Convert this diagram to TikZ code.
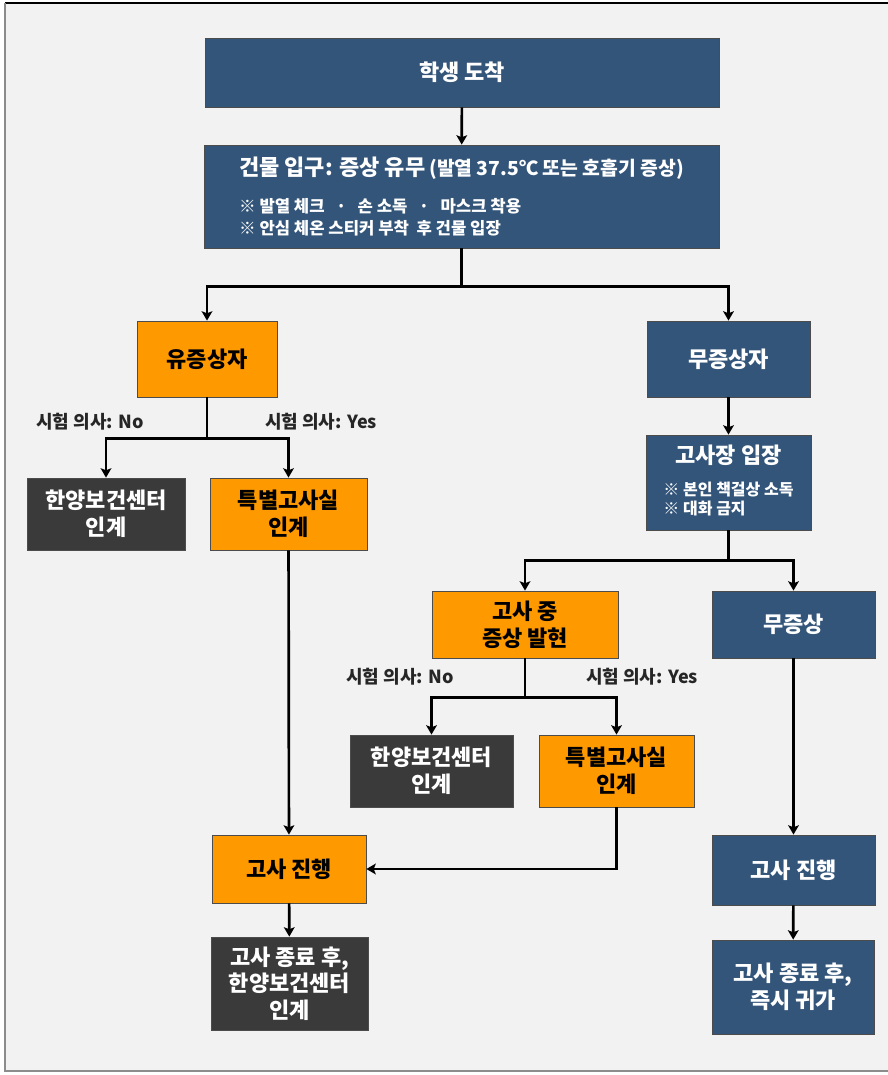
\documentclass[tikz,border=0pt]{standalone}
\usepackage{fontspec}
\setmainfont{Noto Sans CJK KR}
\usepackage{xcolor}
\usepackage{tikz}
\usetikzlibrary{arrows.meta, calc}

\definecolor{boxblue}{HTML}{34557A}
\definecolor{boxorange}{HTML}{FF9900}
\definecolor{boxgray}{HTML}{3A3A3A}
\definecolor{pagegray}{HTML}{F2F2F2}

\begin{document}
\begin{tikzpicture}[x=0.75pt, y=-0.75pt, arrow/.style = {line width=2pt,-{Stealth[length=7pt,width=8pt,inset=1.5pt]}}]
		\tikzset{box/.style={draw=black!70,line width=0.6pt,rectangle,inner sep=0pt,align=center,font=\bfseries\fontsize{16.5}{20}\selectfont}}
		\tikzset{sz/.style 2 args={minimum width=#1*0.75pt,minimum height=#2*0.75pt}}
		\tikzset{bluebox/.style={box,fill=boxblue,text=white}}
		\tikzset{orangebox/.style={box,fill=boxorange,text=black}}
		\tikzset{graybox/.style={box,fill=boxgray,text=white}}
		\tikzset{lbl/.style={inner sep=0pt,text=black!85,font=\bfseries\fontsize{13.5}{16}\selectfont}}

		\useasboundingbox (0,0) rectangle (888,1075);
		\fill[pagegray] (5,3) rectangle (888,1071);
		\draw[black, line width=1.5pt] (5,3) -- (888,3);
		\draw[black!45, line width=1.5pt] (5,3) -- (5,1071) -- (888,1071);

		% top
		\node[bluebox, sz={514}{69}] (arrive) at (462,72.5) {학생 도착};
		\node[bluebox, sz={515}{103}, align=left, font=\bfseries\fontsize{12.5}{16}\selectfont] (entry) at (461.5,196.5)
			{{\fontsize{16.5}{20}\selectfont 건물 입구: 증상 유무} {\fontsize{14.5}{16}\selectfont (발열 37.5℃ 또는 호흡기 증상)}\\[12pt]
			※ 발열 체크 ~~·~~ 손 소독 ~~·~~ 마스크 착용\\
			※ 안심 체온 스티커 부착 ~후 건물 입장};

		% left side
		\node[orangebox, sz={140}{76}] (sympt) at (207,359) {유증상자};
		\node[graybox, sz={158}{72}] (hb1) at (106,514) {한양보건센터\\인계};
		\node[orangebox, sz={157}{72}] (sp1) at (288.5,514) {특별고사실\\인계};
		\node[lbl] (no1) at (90,422) {시험 의사: No};
		\node[lbl] (yes1) at (321,422) {시험 의사: Yes};

		% right side
		\node[bluebox, sz={163}{76}] (nosympt) at (728.5,359) {무증상자};
		\node[bluebox, sz={165}{95}] (room) at (728.5,482.5) {고사장 입장\\[4pt]
			{\fontsize{12}{13.5}\selectfont\begin{tabular}[t]{@{}l@{}}※ 본인 책걸상 소독\\ ※ 대화 금지\end{tabular}}};
		\node[orangebox, sz={186}{67}] (onset) at (525,624.5) {고사 중\\증상 발현};
		\node[bluebox, sz={163}{67}] (nosym2) at (793.5,624.5) {무증상};
		\node[graybox, sz={163}{72}] (hb2) at (431.5,771) {한양보건센터\\인계};
		\node[orangebox, sz={155}{72}] (sp2) at (616.5,771) {특별고사실\\인계};
		\node[lbl] (no2) at (400,677) {시험 의사: No};
		\node[lbl] (yes2) at (642,677) {시험 의사: Yes};

		% bottom
		\node[orangebox, sz={154}{68}] (prog1) at (289,869) {고사 진행};
		\node[bluebox, sz={163}{70}] (prog2) at (793.5,870) {고사 진행};
		\node[graybox, sz={157}{93}] (end1) at (289.5,983.5) {고사 종료 후,\\한양보건센터\\인계};
		\node[bluebox, sz={162}{94}] (end2) at (793,987) {고사 종료 후,\\즉시 귀가};

		\draw [arrow] (arrive) -- (entry);
		\draw [arrow] (entry.south) -- ++(0,38) -| (sympt.north);
		\draw [arrow] (entry.south) -- ++(0,38) -| (nosympt.north);
		\draw [arrow] (sympt.south) -- ++(0,41) -| (hb1.north);
		\draw [arrow] (sympt.south) -- ++(0,41) -| (sp1.north);
		\draw [arrow] (nosympt) -- (room);
		\draw [arrow] (room.south) -- ++(0,30) -| (onset.north);
		\draw [arrow] (room.south) -- ++(0,30) -| (nosym2.north);
		\draw [arrow] (onset.south) -- ++(0,39) -| (hb2.north);
		\draw [arrow] (onset.south) -- ++(0,39) -| (sp2.north);
		\draw [arrow] (sp1) -- (prog1);
		\draw [arrow] (sp2.south) |- (prog1.east);
		\draw [arrow] (nosym2) -- (prog2);
		\draw [arrow] (prog1) -- (end1);
		\draw [arrow] (prog2) -- (end2);

	\end{tikzpicture}
\end{document}
